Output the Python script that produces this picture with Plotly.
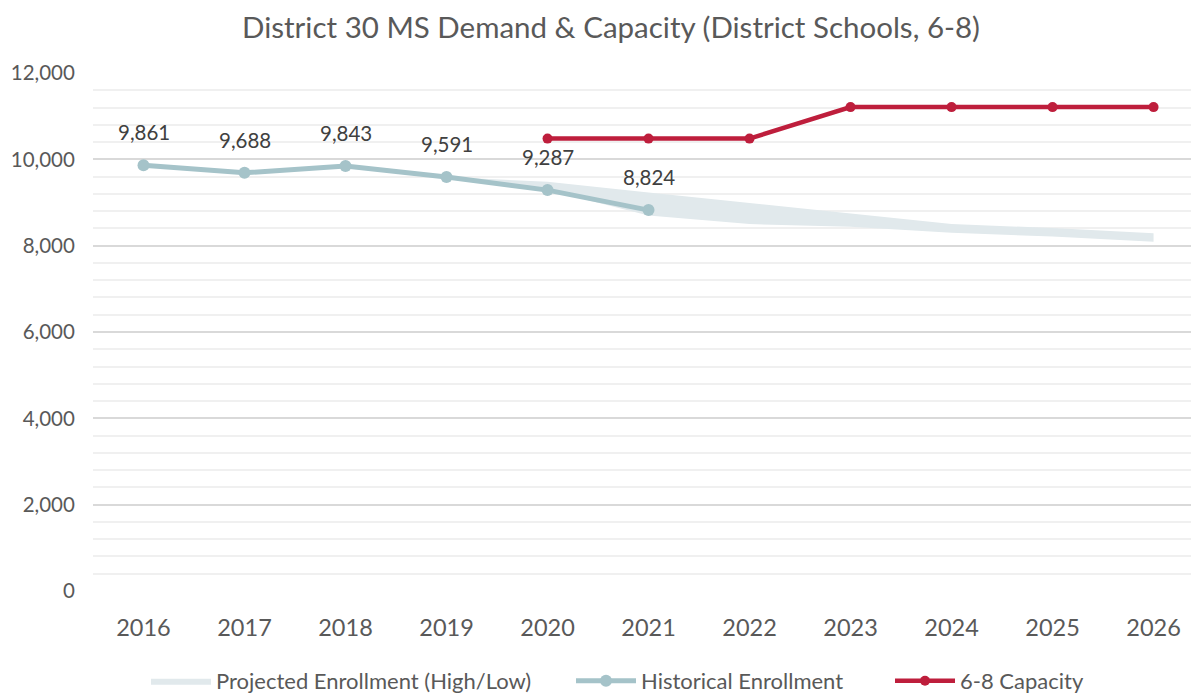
import plotly.graph_objects as go

years = [2016, 2017, 2018, 2019, 2020, 2021, 2022, 2023, 2024, 2025, 2026]
hist_years = [2016, 2017, 2018, 2019, 2020, 2021]
hist_values = [9861, 9688, 9843, 9591, 9287, 8824]
hist_labels = ["9,861", "9,688", "9,843", "9,591", "9,287", "8,824"]
proj_years = [2019, 2020, 2021, 2022, 2023, 2024, 2025, 2026]
proj_high = [9591, 9480, 9230, 8990, 8750, 8500, 8410, 8290]
proj_low = [9591, 9287, 8700, 8500, 8440, 8300, 8210, 8090]
cap_years = [2020, 2021, 2022, 2023, 2024, 2025, 2026]
cap_values = [10480, 10480, 10480, 11210, 11210, 11210, 11210]

FONT = "Lato"
TXT = "#595959"
W, H = 1191, 688
L, T, PH = 85, 65, 518
PW = W - L


def px_to_paper(px):
    return (px - L) / PW


fig = go.Figure()
fig.add_trace(go.Scatter(x=proj_years, y=proj_low, mode="lines", line=dict(width=0, color="#E1E9EC"),
                         showlegend=False, hoverinfo="skip"))
fig.add_trace(go.Scatter(x=proj_years, y=proj_high, mode="lines", line=dict(width=0, color="#E1E9EC"),
                         fill="tonexty", fillcolor="#E1E9EC", name="Projected Enrollment (High/Low)",
                         legend="legend"))
fig.add_trace(go.Scatter(x=hist_years, y=hist_values, mode="lines+markers",
                         line=dict(width=5, color="#A5C3C9"), marker=dict(size=12, color="#A5C3C9"),
                         name="Historical Enrollment", legend="legend2"))
fig.add_trace(go.Scatter(x=cap_years, y=cap_values, mode="lines+markers",
                         line=dict(width=4.5, color="#BE1E3C"), marker=dict(size=10, color="#BE1E3C"),
                         name="6-8 Capacity", legend="legend3"))

for xv, yv, t in zip(hist_years, hist_values, hist_labels):
    fig.add_annotation(x=xv, y=yv, text=t, showarrow=False, yshift=33,
                       font=dict(family=FONT, size=20.5, color="#404040"))

leg_common = dict(orientation="h", y=-0.1735, yanchor="middle", xanchor="left",
                  font=dict(family=FONT, size=22, color=TXT), itemwidth=60,
                  bgcolor="rgba(0,0,0,0)")

fig.update_layout(
    width=W, height=H,
    margin=dict(l=L, r=0, t=T, b=H - T - PH, autoexpand=False),
    paper_bgcolor="white", plot_bgcolor="white",
    font=dict(family=FONT, color=TXT),
    title=dict(text="District 30 MS Demand & Capacity (District Schools, 6-8)",
               x=0.5063, xanchor="center", y=0.9709, yanchor="middle",
               font=dict(family=FONT, size=29.5, color=TXT)),
    legend=dict(x=px_to_paper(138), **leg_common),
    legend2=dict(x=px_to_paper(563), **leg_common),
    legend3=dict(x=px_to_paper(882), **leg_common),
    showlegend=True,
)
fig.update_xaxes(range=[2015.5, 2026.45], tickvals=years, ticktext=[str(y) for y in years],
                 showgrid=False, zeroline=False, showline=False,
                 ticks="outside", ticklen=16, tickcolor="rgba(0,0,0,0)",
                 tickfont=dict(family=FONT, size=23.5, color=TXT))
fig.update_yaxes(range=[0, 12000], tickvals=[0, 2000, 4000, 6000, 8000, 10000, 12000],
                 ticktext=["0", "2,000", "4,000", "6,000", "8,000", "10,000", "12,000"],
                 showgrid=True, gridcolor="#D9D9D9", gridwidth=2,
                 minor=dict(dtick=400, showgrid=True, gridcolor="#F0F0F0", gridwidth=2),
                 zeroline=False, showline=False,
                 ticks="outside", ticklen=13, tickcolor="rgba(0,0,0,0)",
                 tickfont=dict(family=FONT, size=20.5, color=TXT))

fig.write_html("out.html")
